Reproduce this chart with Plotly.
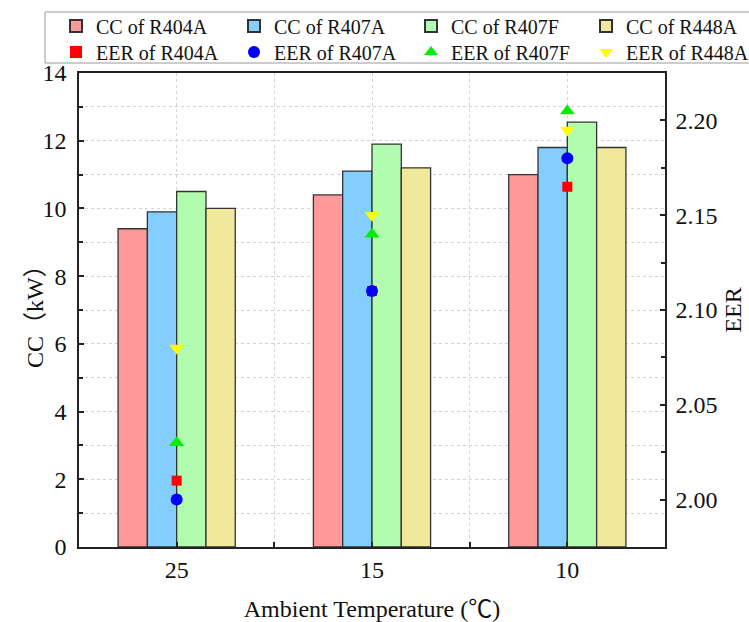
import plotly.graph_objects as go

# Ambient temperature categories (°C)
categories = ["25", "15", "10"]
refrigerants = ["R404A", "R407A", "R407F", "R448A"]

# Cooling capacity (kW) per refrigerant, one value per temperature
cc_r404a = [9.4, 10.4, 11.0]
cc_r407a = [9.9, 11.1, 11.8]
cc_r407f = [10.5, 11.9, 12.55]
cc_r448a = [10.0, 11.2, 11.8]

# Energy efficiency ratio per refrigerant
eer_r404a = [2.01, 2.11, 2.165]
eer_r407a = [2.00, 2.11, 2.18]
eer_r407f = [2.03, 2.14, 2.205]
eer_r448a = [2.08, 2.15, 2.195]

cc_values = [cc_r404a, cc_r407a, cc_r407f, cc_r448a]
eer_values = [eer_r404a, eer_r407a, eer_r407f, eer_r448a]

bar_colors = ["#FF9A9A", "#84CEFF", "#B2FCB0", "#F0E99B"]
marker_colors = ["#FF0000", "#0000FF", "#00EE00", "#FFFF00"]
marker_symbols = ["square", "circle", "triangle-up", "triangle-down"]
marker_sizes = [10, 12, 13, 13]

positions = list(range(len(categories)))

SERIF = "Liberation Serif"
FONT = "Liberation Serif, Noto Sans CJK SC, serif"

# Plot area spans x 79..665 px and y 73..547 px; helpers map pixels to paper
PL, PR, PT, PB = 79, 665, 73, 547


def px_x(px):
    return (px - PL) / (PR - PL)


def px_y(py):
    return (PB - py) / (PB - PT)


# Legend columns (left edge, px) and rows (centre, px)
legend_cols = [56, 234, 411, 586]
legend_rows = [26, 52]

fig = go.Figure()

# Capacity bars: first legend row
for i, (name, vals, col) in enumerate(zip(refrigerants, cc_values, bar_colors)):
    fig.add_trace(go.Bar(
        x=positions, y=vals, name=f"CC of {name}",
        marker=dict(color=col, line=dict(color="#333333", width=1.3)),
        yaxis="y", legend="legend" if i == 0 else f"legend{i + 1}",
    ))

# EER markers: second legend row
for i, (name, vals, col, sym, sz) in enumerate(
        zip(refrigerants, eer_values, marker_colors, marker_symbols, marker_sizes)):
    fig.add_trace(go.Scatter(
        x=positions, y=vals, name=f"EER of {name}", mode="markers",
        marker=dict(color=col, symbol=sym, size=sz, line=dict(width=0)),
        yaxis="y2", legend=f"legend{i + 5}",
    ))

axis_line = dict(showline=True, linecolor="#222222", linewidth=1.5)
tick_font = dict(family=SERIF, size=24, color="#111111")
title_font = dict(family=FONT, size=24, color="#111111")

legend_common = dict(
    orientation="h", xanchor="left", yanchor="middle",
    bgcolor="rgba(0,0,0,0)", borderwidth=0,
    font=dict(family=SERIF, size=20, color="#111111"),
    itemsizing="constant",
)

legends = {}
for r, row_y in enumerate(legend_rows):
    for c, col_x in enumerate(legend_cols):
        idx = r * 4 + c + 1
        key = "legend" if idx == 1 else f"legend{idx}"
        legends[key] = dict(x=px_x(col_x), y=px_y(row_y), **legend_common)

fig.update_layout(
    width=749, height=622,
    margin=dict(l=PL, r=749 - PR, t=PT, b=622 - PB, autoexpand=False),
    paper_bgcolor="white", plot_bgcolor="white",
    font=dict(family=FONT, size=20, color="#111111"),
    barmode="group", bargap=0.4, bargroupgap=0,
    xaxis=dict(
        range=[-0.5, 2.5], tickmode="array", tickvals=positions,
        ticktext=categories, ticks="inside", ticklen=5, tickwidth=1.5,
        tickcolor="#222222", mirror=True, tickfont=tick_font,
        showgrid=True, gridcolor="#D4D4D4", griddash="dot", gridwidth=1,
        minor=dict(tickvals=[p + 0.5 for p in positions[:-1]],
                   ticks="inside", ticklen=5, tickwidth=1.5,
                   tickcolor="#222222", showgrid=True,
                   gridcolor="#D4D4D4", griddash="dot", gridwidth=1),
        title=dict(text="Ambient Temperature (℃)", font=title_font,
                   standoff=24),
        zeroline=False, **axis_line,
    ),
    yaxis=dict(
        range=[0, 14], dtick=2, ticks="inside", ticklen=5, tickwidth=1.5,
        tickcolor="#222222", tickfont=tick_font, mirror=False,
        showgrid=True, gridcolor="#D4D4D4", griddash="dot", gridwidth=1,
        minor=dict(dtick=1, ticks="inside", ticklen=4, tickwidth=1.5,
                   tickcolor="#222222", showgrid=True,
                   gridcolor="#D4D4D4", griddash="dot", gridwidth=1),
        zeroline=False, ticklabelstandoff=6, **axis_line,
    ),
    yaxis2=dict(
        overlaying="y", side="right", range=[1.975, 2.225], dtick=0.05,
        tickformat=".2f", ticks="inside", ticklen=5, tickwidth=1.5,
        tickcolor="#222222", tickfont=tick_font, showgrid=False,
        minor=dict(dtick=0.025, ticks="inside", ticklen=4, tickwidth=1.5,
                   tickcolor="#222222", showgrid=False),
        title=dict(text="EER", font=title_font, standoff=8),
        zeroline=False, ticklabelstandoff=4, **axis_line,
    ),
    showlegend=True,
    **legends,
)

# Left axis title, set close to the tick labels
fig.add_annotation(
    text="CC（kW）", xref="paper", yref="paper", x=px_x(35), y=0.5,
    xanchor="center", yanchor="middle", textangle=-90, showarrow=False,
    font=title_font,
)

# Shared frame behind both legend rows
fig.add_shape(
    type="rect", xref="paper", yref="paper",
    x0=px_x(45), x1=px_x(762), y0=px_y(63), y1=px_y(12),
    line=dict(color="#9A9A9A", width=1), fillcolor="white", layer="above",
)

fig.write_html("out.html")
